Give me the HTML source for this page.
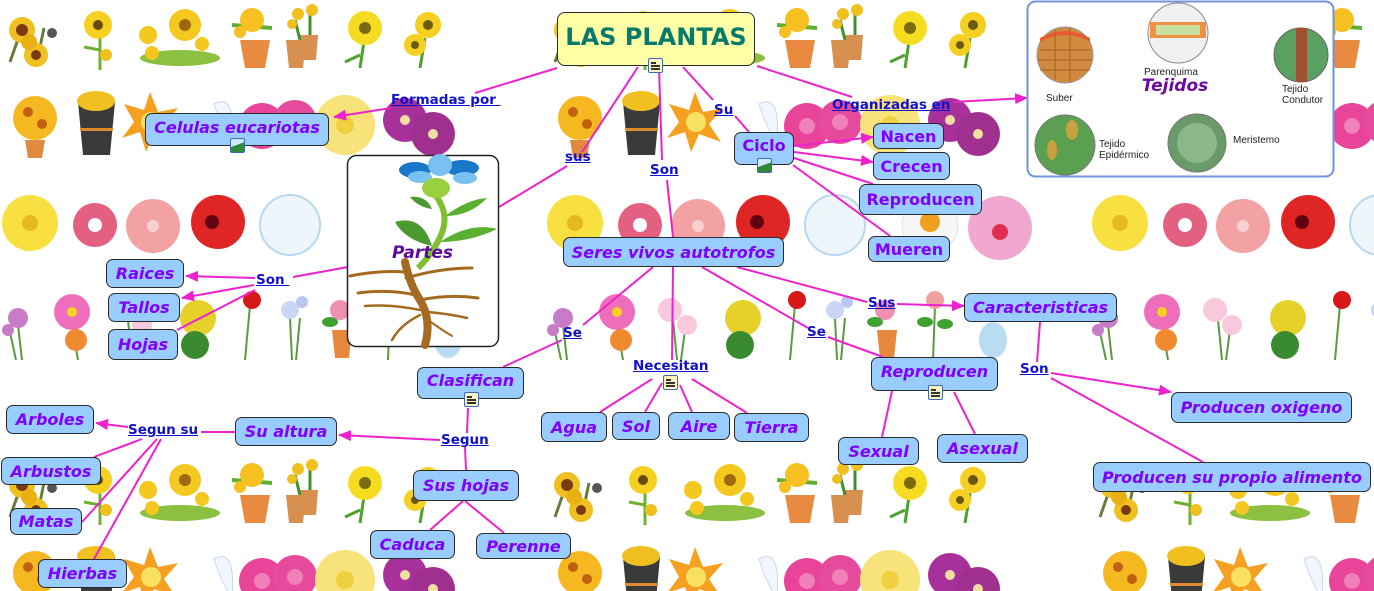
<!DOCTYPE html>
<html><head><meta charset="utf-8">
<style>
html,body{margin:0;padding:0;background:#fff;width:1374px;height:591px;overflow:hidden;}
#wrap{position:relative;width:1374px;height:591px;overflow:hidden;background:#fff;}
svg.bg{position:absolute;left:0;top:0;display:block;}
.n{position:absolute;box-sizing:border-box;background:#99ccff;border:1.5px solid #2a2a2a;border-radius:7px;
 display:flex;align-items:center;justify-content:center;font-family:"DejaVu Sans","Liberation Sans",sans-serif;
 font-weight:bold;font-style:italic;font-size:16px;color:#8000ff;white-space:nowrap;}
.l{position:absolute;font-family:"DejaVu Sans","Liberation Sans",sans-serif;font-weight:bold;font-size:13.5px;
 color:#1111cc;text-decoration:underline;white-space:pre;line-height:16px;}
.ico{position:absolute;width:15px;height:15px;box-sizing:border-box;border:1.5px solid #3a6ab8;border-radius:2px;background:#fff6bf;}
.ico i{position:absolute;left:2px;height:1.5px;background:#333;}
.pic{position:absolute;width:15px;height:15px;box-sizing:border-box;border:1.5px solid #3a6ab8;border-radius:2px;
 background:linear-gradient(160deg,#cfe8ff 0 45%,#2f8a3a 46% 100%);}
.tj{position:absolute;font-family:"Liberation Sans","DejaVu Sans",sans-serif;font-size:10px;color:#222;line-height:11px;}
</style></head><body>
<div id="wrap">
<svg class="bg" width="1374" height="591" viewBox="0 0 1374 591" xmlns="http://www.w3.org/2000/svg">
<defs>
<pattern id="flowers" patternUnits="userSpaceOnUse" x="0" y="0" width="545" height="455">
 <path d="M10 62 L24 22 M36 66 L44 28" stroke="#6a7a40" stroke-width="3"/>
 <circle cx="22" cy="30" r="13" fill="#f0c020"/><circle cx="22" cy="30" r="6" fill="#7a3a10"/>
 <circle cx="36" cy="55" r="12" fill="#f0c020"/><circle cx="36" cy="55" r="5" fill="#7a3a10"/>
 <circle cx="29" cy="42" r="8" fill="#e8b010"/><circle cx="52" cy="33" r="5" fill="#555"/>
 <path d="M100 35 L100 70 M100 50 L84 47" stroke="#70b030" stroke-width="3"/>
 <circle cx="98" cy="25" r="14" fill="#f5d020"/><circle cx="98" cy="25" r="5" fill="#6a4a10"/>
 <circle cx="106" cy="55" r="6" fill="#f0c020"/>
 <ellipse cx="180" cy="58" rx="40" ry="8" fill="#8cc040"/>
 <circle cx="185" cy="25" r="16" fill="#f5c820"/><circle cx="185" cy="25" r="6" fill="#9a6a10"/>
 <circle cx="148" cy="35" r="9" fill="#f5c820"/><circle cx="152" cy="53" r="7" fill="#f5c820"/><circle cx="202" cy="44" r="7" fill="#f5c820"/>
 <path d="M240 40 L270 40 L265 68 L245 68Z" fill="#e88a40"/>
 <path d="M232 25 L272 28" stroke="#60b030" stroke-width="4"/>
 <circle cx="252" cy="20" r="12" fill="#f5c020"/><circle cx="240" cy="32" r="6" fill="#f5c020"/>
 <path d="M286 40 L306 40 L303 68 L289 68Z" fill="#d89050"/><path d="M300 35 L318 35 L316 60 L302 60Z" fill="#d89050"/>
 <path d="M295 20 L300 40 M310 15 L310 35" stroke="#409030" stroke-width="3"/>
 <circle cx="298" cy="14" r="6" fill="#f0c020"/><circle cx="312" cy="10" r="6" fill="#f0c020"/><circle cx="292" cy="24" r="5" fill="#f0c020"/>
 <path d="M365 35 L360 68 M360 55 L345 62" stroke="#50a030" stroke-width="3"/>
 <circle cx="365" cy="28" r="17" fill="#f5dc20"/><circle cx="365" cy="28" r="6" fill="#7a6a10"/>
 <path d="M425 38 L420 68" stroke="#50a030" stroke-width="3"/>
 <circle cx="428" cy="25" r="13" fill="#f5d020"/><circle cx="428" cy="25" r="5" fill="#6a5a10"/>
 <circle cx="415" cy="45" r="11" fill="#f5d020"/><circle cx="415" cy="45" r="4" fill="#6a5a10"/>
 <path d="M25 140 L45 140 L42 158 L28 158Z" fill="#e08a40"/>
 <circle cx="35" cy="118" r="22" fill="#f5b820"/><circle cx="28" cy="112" r="5" fill="#c06010"/><circle cx="42" cy="124" r="5" fill="#c06010"/>
 <path d="M78 102 L115 102 L110 155 L83 155Z" fill="#3a3a3a"/>
 <ellipse cx="96" cy="101" rx="19" ry="10" fill="#f0c020"/><rect x="80" y="128" width="33" height="3" fill="#e08a30"/>
 <polygon points="150,92 158,112 178,108 164,124 176,142 154,134 146,152 140,132 122,138 134,122 124,104 144,110" fill="#f5a020"/>
 <circle cx="151" cy="122" r="10" fill="#f8e060"/>
 <path d="M214 104 Q236 92 232 142 Q222 130 214 104Z" fill="#f2f7ff" stroke="#c8d8f0"/>
 <circle cx="262" cy="126" r="23" fill="#e8449a"/><circle cx="295" cy="122" r="22" fill="#e64a9c"/>
 <circle cx="262" cy="126" r="8" fill="#f080b8"/><circle cx="295" cy="122" r="8" fill="#f080b8"/>
 <circle cx="345" cy="125" r="30" fill="#f8e27a"/><circle cx="345" cy="125" r="9" fill="#f0d040"/>
 <circle cx="405" cy="120" r="22" fill="#a8309a"/><circle cx="433" cy="134" r="22" fill="#a0308f"/>
 <circle cx="405" cy="120" r="5" fill="#f0e0a0"/><circle cx="433" cy="134" r="5" fill="#f0e0a0"/>
 <circle cx="30" cy="223" r="28" fill="#f8e040"/><circle cx="30" cy="223" r="8" fill="#e8b820"/>
 <circle cx="95" cy="225" r="22" fill="#e36080"/><circle cx="95" cy="225" r="7" fill="#fff"/>
 <circle cx="153" cy="226" r="27" fill="#f2a2a2"/><circle cx="153" cy="226" r="6" fill="#f8d0d0"/>
 <circle cx="218" cy="222" r="27" fill="#e02525"/><circle cx="212" cy="222" r="7" fill="#600010"/>
 <circle cx="290" cy="225" r="30" fill="#eef6fc" stroke="#b8d8ee" stroke-width="2"/>
 <circle cx="385" cy="225" r="28" fill="#f6f6f6" stroke="#e0e0e0"/><circle cx="385" cy="222" r="10" fill="#f0a020"/>
 <circle cx="455" cy="228" r="32" fill="#f0a8d0"/><circle cx="455" cy="232" r="8" fill="#e03050"/>
 <path d="M18 325 L22 360 M10 332 L16 360 M72 325 L78 360 M128 320 L132 360 M140 330 L136 360 M250 305 L245 360 M290 318 L292 360 M300 318 L296 360 M390 306 L388 360" stroke="#5a9a40" stroke-width="2"/>
 <circle cx="18" cy="318" r="10" fill="#c77cc7"/><circle cx="8" cy="330" r="6" fill="#c77cc7"/>
 <circle cx="72" cy="312" r="18" fill="#ee6ebb"/><circle cx="72" cy="312" r="5" fill="#f8d020"/><circle cx="76" cy="340" r="11" fill="#f08a30"/>
 <circle cx="125" cy="310" r="12" fill="#f8c8dc"/><circle cx="142" cy="325" r="10" fill="#f8c8dc"/>
 <circle cx="198" cy="318" r="18" fill="#e6d02a"/><circle cx="195" cy="345" r="14" fill="#3a8a30"/>
 <circle cx="252" cy="300" r="9" fill="#d81818"/>
 <circle cx="290" cy="310" r="9" fill="#c8d8f4"/><circle cx="302" cy="302" r="6" fill="#b8c8f0"/>
 <circle cx="340" cy="310" r="10" fill="#f090b0"/><path d="M332 330 L352 330 L349 358 L335 358Z" fill="#e8883c"/>
 <ellipse cx="330" cy="322" rx="8" ry="5" fill="#40a030"/>
 <circle cx="390" cy="300" r="9" fill="#f0a0a0"/><ellipse cx="380" cy="322" rx="8" ry="5" fill="#40a030"/><ellipse cx="400" cy="324" rx="8" ry="5" fill="#40a030"/>
 <ellipse cx="448" cy="340" rx="14" ry="18" fill="#b8dcf2"/>
</pattern>
<marker id="ar" markerUnits="userSpaceOnUse" markerWidth="13" markerHeight="11" refX="12" refY="5.5" orient="auto">
 <path d="M0,0 L13,5.5 L0,11 z" fill="#ee22cc"/>
</marker>
</defs>
<rect x="0" y="0" width="1374" height="591" fill="url(#flowers)"/>

<g stroke="#ee22cc" stroke-width="2" fill="none">
<path d="M557 68 L475 93"/>
<path d="M391 108 L334 117" marker-end="url(#ar)"/>
<path d="M638 67 L582 152"/>
<path d="M567 166 L499 207"/>
<path d="M659 67 L662 160"/>
<path d="M667 180 L673 237"/>
<path d="M683 67 L713 100"/>
<path d="M735 116 L749 132"/>
<path d="M757 66 L852 97"/>
<path d="M953 102 L1027 98" marker-end="url(#ar)"/>
<path d="M794 146 L873 137" marker-end="url(#ar)"/>
<path d="M794 152 L873 162" marker-end="url(#ar)"/>
<path d="M794 158 L873 184"/>
<path d="M793 165 L890 236"/>
<path d="M348 267 L293 277"/>
<path d="M255 278 L186 276" marker-end="url(#ar)"/>
<path d="M254 285 L182 298" marker-end="url(#ar)"/>
<path d="M255 290 L177 330"/>
<path d="M653 267 L583 325"/>
<path d="M562 340 L503 367"/>
<path d="M673 267 L672 360"/>
<path d="M702 267 L808 328"/>
<path d="M828 337 L883 357"/>
<path d="M737 267 L867 302"/>
<path d="M897 304 L964 306" marker-end="url(#ar)"/>
<path d="M1040 322 L1037 362"/>
<path d="M1051 373 L1171 392" marker-end="url(#ar)"/>
<path d="M1051 378 L1203 462"/>
<path d="M892 391 L882 437"/>
<path d="M954 392 L975 434"/>
<path d="M652 379 L600 412"/>
<path d="M662 383 L645 412"/>
<path d="M680 385 L692 412"/>
<path d="M692 379 L747 413"/>
<path d="M468 408 L467 433"/>
<path d="M440 440 L339 435" marker-end="url(#ar)"/>
<path d="M465 447 L466 470"/>
<path d="M235 432 L201 432"/>
<path d="M128 427 L96 423" marker-end="url(#ar)"/>
<path d="M142 439 L94 457"/>
<path d="M157 439 L82 522"/>
<path d="M161 439 L94 559"/>
<path d="M463 501 L430 530"/>
<path d="M465 501 L504 533"/>
</g>

<rect x="347.5" y="155.5" width="151" height="191" rx="9" fill="#fff" stroke="#222" stroke-width="1.5"/>
<g>
 <ellipse cx="415" cy="170" rx="16" ry="8" fill="#1a78c8"/>
 <ellipse cx="462" cy="168" rx="17" ry="8" fill="#1a78c8"/>
 <ellipse cx="440" cy="165" rx="12" ry="11" fill="#7ac0f0"/>
 <ellipse cx="420" cy="177" rx="12" ry="6" fill="#7ac0f0"/>
 <ellipse cx="465" cy="178" rx="12" ry="6" fill="#7ac0f0"/>
 <path d="M436 196 Q450 215 441 235 Q432 255 418 268" stroke="#80c030" stroke-width="6" fill="none"/>
 <ellipse cx="436" cy="188" rx="14" ry="10" fill="#9ad040"/>
 <path d="M395 222 Q422 214 432 246 Q405 240 395 222Z" fill="#4a9a30"/>
 <path d="M445 216 Q468 199 487 198 Q470 216 445 216Z" fill="#5ab030"/>
 <path d="M440 242 Q470 222 497 229 Q470 242 440 242Z" fill="#5ab030"/>
 <path d="M410 197 Q426 195 432 209 Q418 207 410 197Z" fill="#4a9a30"/>
 <g stroke="#a56a22" fill="none" stroke-linecap="round">
  <path d="M405 262 Q410 285 420 300 Q432 320 425 345" stroke-width="8"/>
  <path d="M405 272 Q380 270 350 276" stroke-width="3"/>
  <path d="M406 278 Q440 268 472 268" stroke-width="3"/>
  <path d="M415 295 Q390 289 358 293" stroke-width="3"/>
  <path d="M420 300 Q450 294 478 298" stroke-width="3"/>
  <path d="M420 310 Q390 304 365 306" stroke-width="2.5"/>
  <path d="M428 312 Q450 314 467 318" stroke-width="2.5"/>
  <path d="M420 315 Q400 325 392 340" stroke-width="2.5"/>
  <path d="M428 320 Q442 330 452 336" stroke-width="2"/>
 </g>
 <text x="392" y="258" font-family="DejaVu Sans, Liberation Sans, sans-serif" font-weight="bold" font-style="italic" font-size="17" fill="#5c0a9a">Partes</text>
</g>

<rect x="1027.5" y="1.5" width="306" height="175" rx="8" fill="#fff" stroke="#6f95de" stroke-width="2"/>
<circle cx="1065" cy="55" r="28" fill="#d08a40" stroke="#999"/>
<path d="M1040 42 Q1065 28 1090 42 L1090 38 Q1065 24 1040 38Z" fill="#e85a30"/>
<g stroke="#a86020" stroke-width="1"><path d="M1040 50 H1090 M1038 60 H1092 M1040 70 H1090 M1055 30 V80 M1070 28 V82"/></g>
<circle cx="1178" cy="33" r="30" fill="#f0f0f0" stroke="#888"/>
<rect x="1150" y="22" width="56" height="16" fill="#f09040"/><rect x="1156" y="25" width="44" height="10" fill="#c8e0a0"/>
<circle cx="1301" cy="55" r="27" fill="#5aa060" stroke="#666"/>
<rect x="1296" y="28" width="11" height="54" fill="#a05030"/>
<circle cx="1065" cy="145" r="30" fill="#5aa050" stroke="#777"/>
<ellipse cx="1072" cy="130" rx="6" ry="10" fill="#c8a040"/><ellipse cx="1052" cy="150" rx="5" ry="10" fill="#c8a040"/>
<circle cx="1197" cy="143" r="29" fill="#6a9a6a" stroke="#777"/>
<circle cx="1197" cy="143" r="20" fill="#8ab88a"/>
<text x="1175" y="91" font-family="DejaVu Sans, Liberation Sans, sans-serif" font-weight="bold" font-style="italic" font-size="17" fill="#6a0aa0" text-anchor="middle">Tejidos</text>
</svg>

<div class="tj" style="left:1046px;top:93px;">Suber</div>
<div class="tj" style="left:1144px;top:67px;">Parenquima</div>
<div class="tj" style="left:1282px;top:84px;">Tejido<br>Condutor</div>
<div class="tj" style="left:1099px;top:139px;">Tejido<br>Epidérmico</div>
<div class="tj" style="left:1233px;top:135px;">Meristemo</div>

<div class="n" style="left:557px;top:12px;width:198px;height:54px;background:#ffffa6;border-radius:8px;color:#087a6c;font-style:normal;font-size:24px;padding-bottom:4px;">LAS PLANTAS</div>
<div class="ico" style="left:648px;top:58px;"><i style="top:3px;width:5px"></i><i style="top:6px;width:9px"></i><i style="top:9px;width:9px"></i></div>

<div class="n" style="left:145px;top:113px;width:184px;height:33px;padding-bottom:4px;">Celulas eucariotas</div>
<div class="pic" style="left:230px;top:138px;"></div>
<div class="n" style="left:106px;top:259px;width:78px;height:29px;">Raices</div>
<div class="n" style="left:108px;top:293px;width:72px;height:29px;">Tallos</div>
<div class="n" style="left:108px;top:329px;width:70px;height:31px;">Hojas</div>
<div class="n" style="left:734px;top:132px;width:60px;height:33px;font-style:normal;padding-bottom:6px;">Ciclo</div>
<div class="pic" style="left:757px;top:158px;"></div>
<div class="n" style="left:873px;top:123px;width:71px;height:26px;font-style:normal;">Nacen</div>
<div class="n" style="left:873px;top:152px;width:77px;height:28px;font-style:normal;">Crecen</div>
<div class="n" style="left:859px;top:184px;width:123px;height:31px;font-style:normal;">Reproducen</div>
<div class="n" style="left:868px;top:236px;width:82px;height:26px;font-style:normal;">Mueren</div>
<div class="n" style="left:563px;top:237px;width:221px;height:30px;">Seres vivos autotrofos</div>
<div class="n" style="left:964px;top:293px;width:153px;height:29px;">Caracteristicas</div>
<div class="n" style="left:871px;top:357px;width:127px;height:34px;padding-bottom:6px;">Reproducen</div>
<div class="ico" style="left:928px;top:385px;"><i style="top:3px;width:5px"></i><i style="top:6px;width:9px"></i><i style="top:9px;width:9px"></i></div>
<div class="n" style="left:838px;top:437px;width:81px;height:28px;">Sexual</div>
<div class="n" style="left:937px;top:434px;width:91px;height:29px;">Asexual</div>
<div class="n" style="left:1171px;top:392px;width:181px;height:31px;">Producen oxigeno</div>
<div class="n" style="left:1093px;top:462px;width:278px;height:30px;">Producen su propio alimento</div>
<div class="n" style="left:417px;top:367px;width:107px;height:32px;padding-bottom:6px;">Clasifican</div>
<div class="ico" style="left:464px;top:392px;"><i style="top:3px;width:5px"></i><i style="top:6px;width:9px"></i><i style="top:9px;width:9px"></i></div>
<div class="n" style="left:541px;top:412px;width:66px;height:30px;">Agua</div>
<div class="n" style="left:612px;top:412px;width:48px;height:28px;">Sol</div>
<div class="n" style="left:668px;top:412px;width:62px;height:28px;">Aire</div>
<div class="n" style="left:734px;top:413px;width:75px;height:29px;">Tierra</div>
<div class="n" style="left:6px;top:405px;width:88px;height:29px;">Arboles</div>
<div class="n" style="left:235px;top:417px;width:102px;height:29px;">Su altura</div>
<div class="n" style="left:1px;top:457px;width:100px;height:28px;">Arbustos</div>
<div class="n" style="left:10px;top:508px;width:72px;height:27px;">Matas</div>
<div class="n" style="left:38px;top:559px;width:89px;height:29px;">Hierbas</div>
<div class="n" style="left:413px;top:470px;width:106px;height:31px;">Sus hojas</div>
<div class="n" style="left:370px;top:530px;width:85px;height:29px;">Caduca</div>
<div class="n" style="left:476px;top:533px;width:95px;height:26px;">Perenne</div>
<div class="ico" style="left:663px;top:375px;"><i style="top:3px;width:5px"></i><i style="top:6px;width:9px"></i><i style="top:9px;width:9px"></i></div>

<div class="l" style="left:391px;top:92px;">Formadas por </div>
<div class="l" style="left:565px;top:149px;">sus</div>
<div class="l" style="left:650px;top:162px;">Son</div>
<div class="l" style="left:714px;top:102px;">Su</div>
<div class="l" style="left:832px;top:97px;">Organizadas en</div>
<div class="l" style="left:256px;top:272px;">Son </div>
<div class="l" style="left:563px;top:325px;">Se</div>
<div class="l" style="left:633px;top:358px;">Necesitan</div>
<div class="l" style="left:807px;top:324px;">Se</div>
<div class="l" style="left:868px;top:295px;">Sus</div>
<div class="l" style="left:1020px;top:361px;">Son</div>
<div class="l" style="left:128px;top:422px;">Segun su</div>
<div class="l" style="left:441px;top:432px;">Segun</div>
</div>
</body></html>
